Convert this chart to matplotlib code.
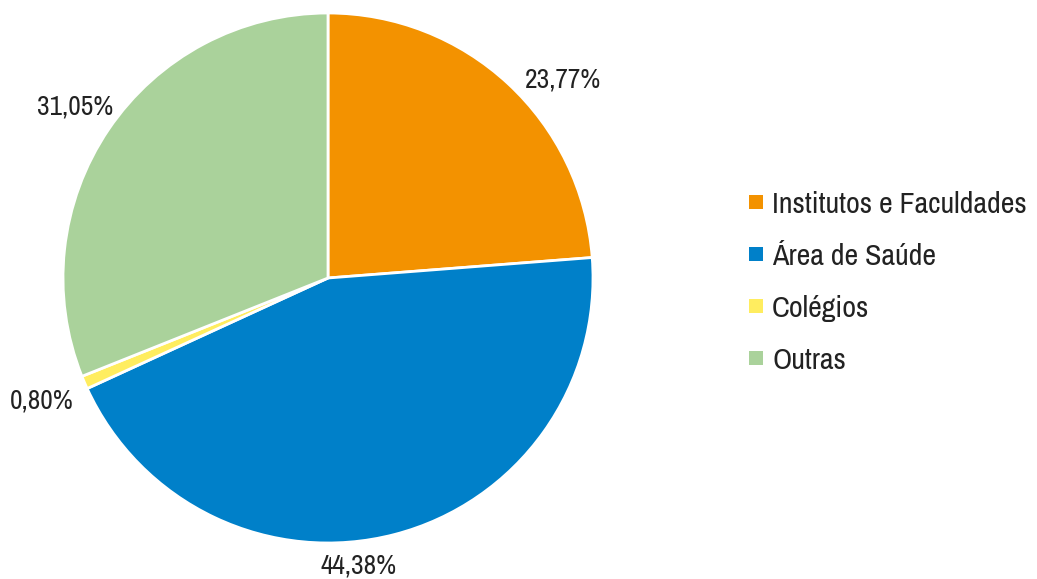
import matplotlib
matplotlib.use("Agg")
import matplotlib.pyplot as plt
from matplotlib import font_manager
from matplotlib.patches import Rectangle
import numpy as np

categories = ["Institutos e Faculdades", "Área de Saúde", "Colégios", "Outras"]
values = [23.77, 44.38, 0.80, 31.05]
value_labels = ["23,77%", "44,38%", "0,80%", "31,05%"]
colors = ["#F39200", "#0080C9", "#FFED5F", "#AAD29B"]

# choose a narrow sans font (Helvetica Condensed look-alike)
prefs = ["Archivo Narrow", "Liberation Sans Narrow", "Roboto Condensed",
         "Asap Condensed", "Barlow Condensed", "DejaVu Sans"]
font_path = None
for name in prefs:
    for f in font_manager.fontManager.ttflist:
        if f.name == name and f.style == "normal" and f.weight in (400, "normal", "regular"):
            if name == "DejaVu Sans" and not (isinstance(f.stretch, str) and "condensed" in f.stretch):
                continue
            font_path = f.fname
            break
    if font_path:
        break

def fp(size):
    if font_path:
        return font_manager.FontProperties(fname=font_path, size=size)
    return font_manager.FontProperties(family="Roboto", size=size)

W, H = 1037, 579
fig = plt.figure(figsize=(W / 100, H / 100), dpi=100)
renderer = fig.canvas.get_renderer()

def fit_size(text, target_px, base=20):
    t = fig.text(0, 0, text, fontproperties=fp(base))
    w = t.get_window_extent(renderer).width
    t.remove()
    return base * target_px / w

label_size = fit_size("23,77%", 76)
legend_size = fit_size("Institutos e Faculdades", 255)

cx, cy, r = 328, 278, 265
ax = fig.add_axes([(cx - r) / W, (H - cy - r) / H, 2 * r / W, 2 * r / H])
ax.pie(values, colors=colors, startangle=90, counterclock=False,
       wedgeprops=dict(edgecolor="white", linewidth=2), radius=1)
ax.set_xlim(-1, 1)
ax.set_ylim(-1, 1)
ax.set_aspect("equal")

# label placement (angle in degrees, radial distance)
label_pos = [(40.4, 1.165), (-83.8, 1.082), (-157.1, 1.172), (145.5, 1.159)]
for lab, (a, d) in zip(value_labels, label_pos):
    t = np.deg2rad(a)
    ax.text(d * np.cos(t), d * np.sin(t), lab, ha="center", va="center_baseline",
            fontproperties=fp(label_size), color="#222222", clip_on=False)

# legend, drawn manually
leg_x, leg_y0, leg_dy, sq = 749, 202, 52, 14
for i, (cat, c) in enumerate(zip(categories, colors)):
    yc = leg_y0 + i * leg_dy
    fig.patches.append(Rectangle((leg_x / W, 1 - (yc + sq / 2) / H), sq / W, sq / H,
                                 transform=fig.transFigure, facecolor=c,
                                 edgecolor="none"))
    fig.text(772 / W, 1 - yc / H, cat, ha="left", va="center_baseline",
             fontproperties=fp(legend_size), color="#222222")

fig.savefig("out.png", dpi=100, facecolor="white")
